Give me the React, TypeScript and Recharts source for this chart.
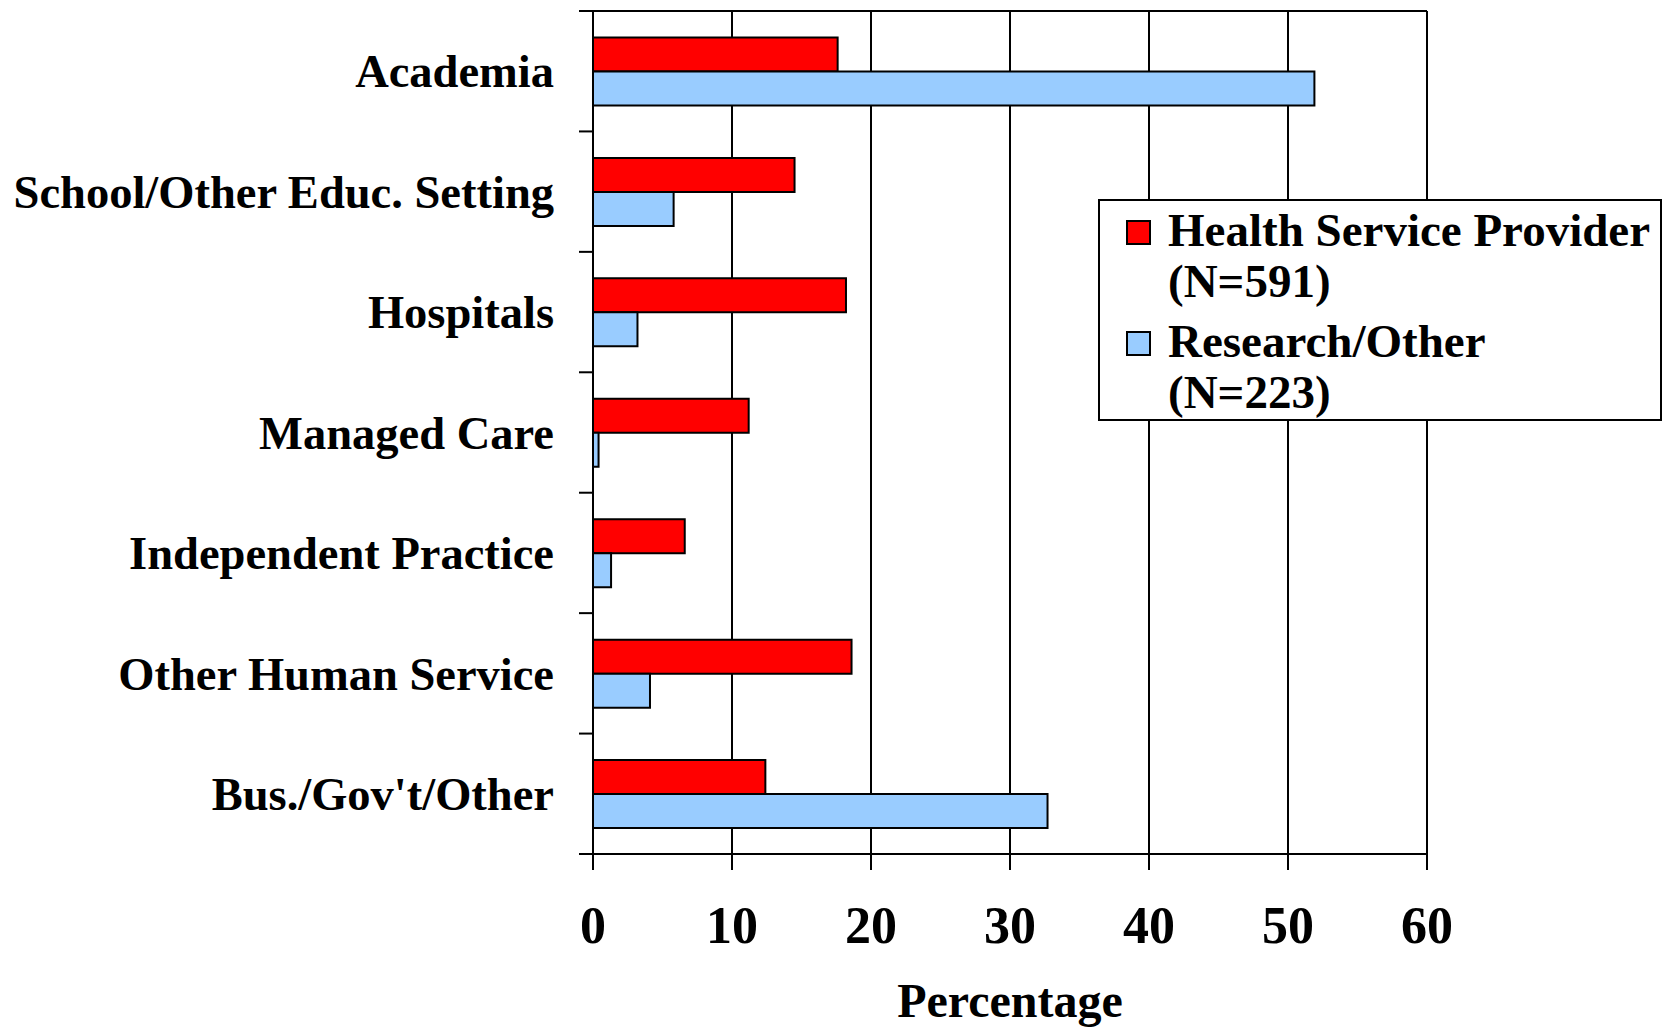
import { BarChart, Bar, XAxis, YAxis, CartesianGrid } from "recharts";

const categories = [
  "Academia",
  "School/Other Educ. Setting",
  "Hospitals",
  "Managed Care",
  "Independent Practice",
  "Other Human Service",
  "Bus./Gov't/Other",
];
const healthService = [17.6, 14.5, 18.2, 11.2, 6.6, 18.6, 12.4];
const research = [51.9, 5.8, 3.2, 0.4, 1.3, 4.1, 32.7];
const xTicks = [0, 10, 20, 30, 40, 50, 60];
const legendItems = [
  { key: "hsp", lines: ["Health Service Provider", "(N=591)"], color: "#FF0000" },
  { key: "res", lines: ["Research/Other", "(N=223)"], color: "#99CCFF" },
];

const data = categories.map((name, i) => ({
  name,
  hsp: healthService[i],
  res: research[i],
}));

const W = 1667;
const H = 1027;
const Y_AXIS_W = 593;
const RIGHT = 240;
const PLOT_W = W - Y_AXIS_W - RIGHT;
const PLOT_TOP = 11;
const PLOT_BOTTOM = 854;
const STEP = (PLOT_BOTTOM - PLOT_TOP) / categories.length;

interface TickProps {
  x?: number;
  y?: number;
  index?: number;
  payload?: { value: string };
}

// category label + boundary tick marks (ticks sit between categories)
const CatTick = ({ x = 0, y = 0, index = 0, payload }: TickProps) => (
  <g>
    <line
      x1={x - 14}
      x2={index === 0 ? x + PLOT_W : x}
      y1={y - STEP / 2}
      y2={y - STEP / 2}
      stroke="#000"
      strokeWidth={2}
    />
    {index === categories.length - 1 && (
      <line x1={x - 14} x2={x} y1={y + STEP / 2} y2={y + STEP / 2} stroke="#000" strokeWidth={2} />
    )}
    <text x={x - 39} y={y} dy="0.35em" textAnchor="end" fill="#000" fontSize={46.5} fontWeight="bold">
      {payload?.value}
    </text>
  </g>
);

export default function App() {
  return (
    <div style={{ position: "absolute", left: 0, top: 0, width: W, height: H, background: "#fff", fontFamily: "'Liberation Serif', 'Times New Roman', serif" }}>
      <BarChart
        width={W}
        height={H}
        data={data}
        layout="vertical"
        margin={{ top: PLOT_TOP, right: RIGHT, bottom: 0, left: 0 }}
        barCategoryGap="22%"
        barGap={0}
      >
        <CartesianGrid horizontal={false} stroke="#000" strokeWidth={2} />
        <XAxis
          type="number"
          domain={[0, 60]}
          ticks={xTicks}
          height={173}
          tickSize={16}
          tickMargin={36}
          axisLine={{ stroke: "#000", strokeWidth: 2 }}
          tickLine={{ stroke: "#000", strokeWidth: 2 }}
          tick={{ fill: "#000", fontSize: 52, fontWeight: "bold" }}
          label={{ value: "Percentage", position: "insideBottom", offset: 10, fill: "#000", fontSize: 48, fontWeight: "bold" }}
        />
        <YAxis
          type="category"
          dataKey="name"
          width={Y_AXIS_W}
          tickSize={0}
          tickMargin={0}
          tickLine={false}
          axisLine={{ stroke: "#000", strokeWidth: 2 }}
          tick={<CatTick />}
          interval={0}
        />
        <Bar dataKey="hsp" fill="#FF0000" stroke="#000" strokeWidth={2} isAnimationActive={false} />
        <Bar dataKey="res" fill="#99CCFF" stroke="#000" strokeWidth={2} isAnimationActive={false} />
      </BarChart>

      {/* Legend */}
      <div
        style={{
          position: "absolute",
          left: 1098,
          top: 199,
          width: 564,
          height: 222,
          boxSizing: "border-box",
          border: "2px solid #000",
          background: "#fff",
          paddingTop: 4,
        }}
      >
        {legendItems.map((item, i) => (
          <div key={item.key} style={{ position: "relative", paddingLeft: 68, marginTop: i === 0 ? 0 : 9, fontSize: 47, fontWeight: "bold", lineHeight: "51px", color: "#000" }}>
            <span
              style={{
                position: "absolute",
                left: 26,
                top: 15,
                width: 25,
                height: 25,
                boxSizing: "border-box",
                border: "2px solid #000",
                background: item.color,
              }}
            />
            {item.lines.map(l => (
              <div key={l}>{l}</div>
            ))}
          </div>
        ))}
      </div>
    </div>
  );
}
